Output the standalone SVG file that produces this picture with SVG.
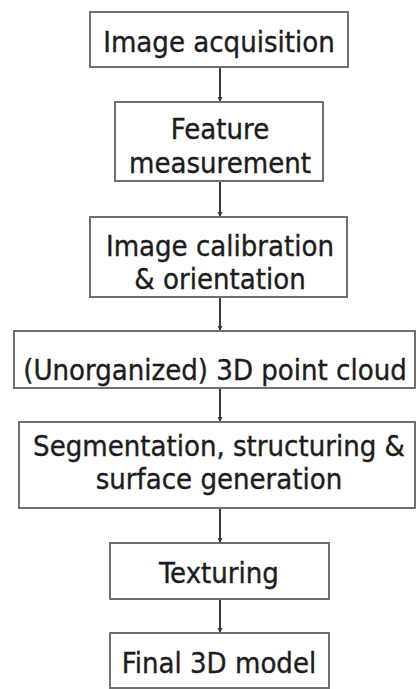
<svg xmlns="http://www.w3.org/2000/svg" width="417" height="689" viewBox="0 0 417 689">
  <style>
    .box { fill: #ffffff; stroke: #707070; stroke-width: 2; }
    .label { font-family: "DejaVu Sans Condensed", "DejaVu Sans", sans-serif; font-size: 29px; fill: #1c1c1c; stroke: #1c1c1c; stroke-width: 0.35; text-anchor: middle; }
    .link { stroke: #3a3a3a; stroke-width: 2; fill: none; marker-end: url(#tip); }
  </style>
  <defs>
    <marker id="tip" viewBox="0 0 6 6" refX="6" refY="3" markerWidth="2.5" markerHeight="2.5" orient="auto" markerUnits="strokeWidth">
      <path d="M0,0 L6,3 L0,6 Z" fill="#3a3a3a"/>
    </marker>
  </defs>
  <rect width="417" height="689" fill="#ffffff"/>

  <g id="connectors">
    <line class="link" x1="220" y1="67" x2="220" y2="102"/>
    <line class="link" x1="220" y1="181" x2="220" y2="217"/>
    <line class="link" x1="220" y1="297" x2="220" y2="331"/>
    <line class="link" x1="220" y1="388" x2="220" y2="422"/>
    <line class="link" x1="220" y1="508" x2="220" y2="543"/>
    <line class="link" x1="220" y1="599" x2="220" y2="633"/>
  </g>

  <g id="image-acquisition">
    <rect class="box" x="90" y="12" width="258" height="55"/>
    <text class="label" x="219" y="52">Image acquisition</text>
  </g>
  <g id="feature-measurement">
    <rect class="box" x="115" y="102" width="208" height="79"/>
    <text class="label" x="220" y="139">Feature</text>
    <text class="label" x="220" y="173">measurement</text>
  </g>
  <g id="image-calibration">
    <rect class="box" x="90" y="217" width="257" height="80"/>
    <text class="label" x="220" y="256">Image calibration</text>
    <text class="label" x="220" y="289">&amp; orientation</text>
  </g>
  <g id="point-cloud">
    <rect class="box" x="14" y="331" width="401" height="57"/>
    <text class="label" x="215" y="380">(Unorganized) 3D point cloud</text>
  </g>
  <g id="segmentation">
    <rect class="box" x="19" y="422" width="396" height="86"/>
    <text class="label" x="219" y="456">Segmentation, structuring &amp;</text>
    <text class="label" x="219" y="489">surface generation</text>
  </g>
  <g id="texturing">
    <rect class="box" x="110" y="543" width="219" height="56"/>
    <text class="label" x="219" y="583">Texturing</text>
  </g>
  <g id="final-model">
    <rect class="box" x="110" y="633" width="219" height="55"/>
    <text class="label" x="219" y="673">Final 3D model</text>
  </g>
</svg>
